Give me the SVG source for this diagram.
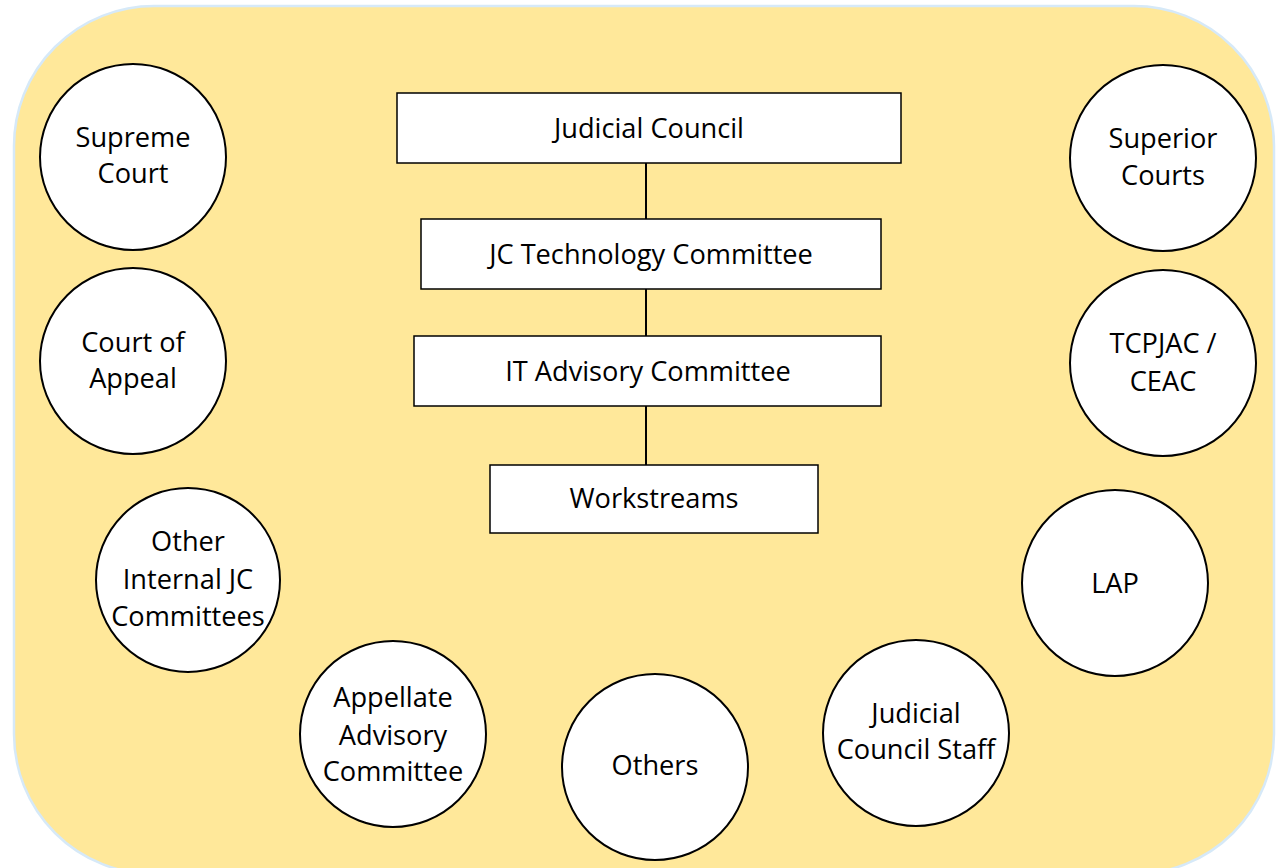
<svg xmlns="http://www.w3.org/2000/svg" width="1276" height="868" viewBox="0 0 1276 868">
  <style>
    .bg { fill: #FFE89A; stroke: #D6E9F8; stroke-width: 2.5; }
    .box { fill: #FFFFFF; stroke: #000000; stroke-width: 1.5; }
    .circ { fill: #FFFFFF; stroke: #000000; stroke-width: 2; }
    .lbl { font-family: "Open Sans", "Liberation Sans", sans-serif; font-size: 27.2px; fill: #000000; text-anchor: middle; }
    .conn { stroke: #000000; stroke-width: 2; fill: none; }
  </style>
  <rect class="bg" x="14" y="6" width="1260" height="868" rx="140" ry="140"/>

  <g id="connectors">
    <line class="conn" x1="646" y1="163" x2="646" y2="219"/>
    <line class="conn" x1="646" y1="289" x2="646" y2="336"/>
    <line class="conn" x1="646" y1="406" x2="646" y2="465"/>
  </g>

  <g id="judicial-council">
    <rect class="box" x="397" y="93" width="504" height="70"/>
    <text class="lbl" x="649" y="138">Judicial Council</text>
  </g>
  <g id="jc-technology-committee">
    <rect class="box" x="421" y="219" width="460" height="70"/>
    <text class="lbl" x="651" y="264">JC Technology Committee</text>
  </g>
  <g id="it-advisory-committee">
    <rect class="box" x="414" y="336" width="467" height="70"/>
    <text class="lbl" x="648" y="381">IT Advisory Committee</text>
  </g>
  <g id="workstreams">
    <rect class="box" x="490" y="465" width="328" height="68"/>
    <text class="lbl" x="654" y="508">Workstreams</text>
  </g>

  <g id="supreme-court">
    <circle class="circ" cx="133" cy="157" r="93"/>
    <text class="lbl" x="133" y="147">Supreme</text>
    <text class="lbl" x="133" y="183">Court</text>
  </g>
  <g id="court-of-appeal">
    <circle class="circ" cx="133" cy="361" r="93"/>
    <text class="lbl" x="133" y="352">Court of</text>
    <text class="lbl" x="133" y="388">Appeal</text>
  </g>
  <g id="other-internal-jc-committees">
    <circle class="circ" cx="188" cy="580" r="92"/>
    <text class="lbl" x="188" y="551">Other</text>
    <text class="lbl" x="188" y="589">Internal JC</text>
    <text class="lbl" x="188" y="626">Committees</text>
  </g>
  <g id="appellate-advisory-committee">
    <circle class="circ" cx="393" cy="734" r="93"/>
    <text class="lbl" x="393" y="707">Appellate</text>
    <text class="lbl" x="393" y="745">Advisory</text>
    <text class="lbl" x="393" y="781">Committee</text>
  </g>
  <g id="others">
    <circle class="circ" cx="655" cy="767" r="93"/>
    <text class="lbl" x="655" y="775">Others</text>
  </g>
  <g id="judicial-council-staff">
    <circle class="circ" cx="916" cy="733" r="93"/>
    <text class="lbl" x="916" y="723">Judicial</text>
    <text class="lbl" x="916" y="759">Council Staff</text>
  </g>
  <g id="lap">
    <circle class="circ" cx="1115" cy="583" r="93"/>
    <text class="lbl" x="1115" y="593">LAP</text>
  </g>
  <g id="tcpjac-ceac">
    <circle class="circ" cx="1163" cy="363" r="93"/>
    <text class="lbl" x="1163" y="353">TCPJAC /</text>
    <text class="lbl" x="1163" y="391">CEAC</text>
  </g>
  <g id="superior-courts">
    <circle class="circ" cx="1163" cy="158" r="93"/>
    <text class="lbl" x="1163" y="148">Superior</text>
    <text class="lbl" x="1163" y="185">Courts</text>
  </g>
</svg>
